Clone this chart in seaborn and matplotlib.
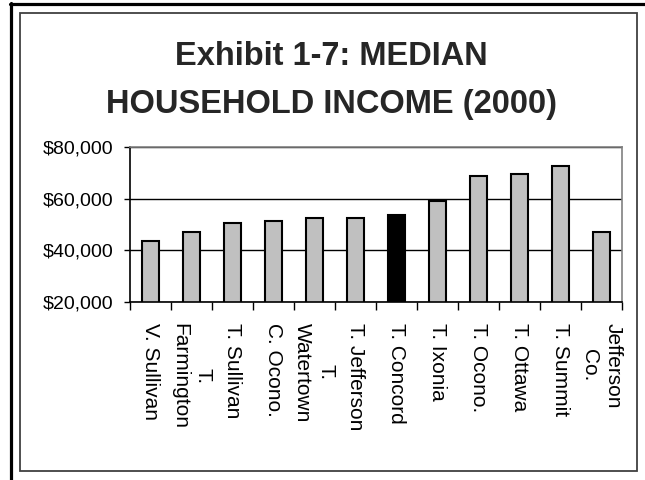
import matplotlib
matplotlib.use("Agg")
import matplotlib.pyplot as plt
import seaborn as sns
import numpy as np
from matplotlib.lines import Line2D
from matplotlib.patches import Rectangle
from matplotlib.ticker import FuncFormatter, FixedLocator

# ---- data ----
categories = ["V. Sullivan", "T. Farmington", "T. Sullivan", "C. Ocono.",
              "T. Watertown", "T. Jefferson", "T. Concord", "T. Ixonia",
              "T. Ocono.", "T. Ottawa", "T. Summit", "Jefferson Co."]
tick_labels = ["V. Sullivan", "T.\nFarmington", "T. Sullivan", "C. Ocono.",
               "T.\nWatertown", "T. Jefferson", "T. Concord", "T. Ixonia",
               "T. Ocono.", "T. Ottawa", "T. Summit", "Jefferson\nCo."]
income = [43600, 47000, 50500, 51400, 52700, 52700, 53600, 59000,
          68800, 69600, 72800, 47000]
highlight = "T. Concord"
y_ticks = [20000, 40000, 60000, 80000]

sns.set_theme(style="white")
plt.rcParams['font.family'] = ['Liberation Sans', 'DejaVu Sans']

fig = plt.figure(figsize=(6.45, 4.8), dpi=100)
ax = fig.add_axes([130/645, 1-302/480, (622-130)/645, (302-147)/480])

palette = {c: ("#000000" if c == highlight else "#C0C0C0") for c in categories}
sns.barplot(x=categories, y=income, hue=categories, palette=palette,
            legend=False, width=0.4, edgecolor="black", linewidth=1.5,
            saturation=1, ax=ax)

ax.set_ylim(20000, 80000)
ax.set_xlim(-0.5, len(categories) - 0.5)
ax.yaxis.set_major_locator(FixedLocator(y_ticks))
ax.yaxis.set_major_formatter(FuncFormatter(lambda v, p: f"${v:,.0f}"))
ax.set_axisbelow(True)
ax.yaxis.grid(True, color="black", linewidth=1.0)
ax.xaxis.grid(False)

for s in ["top", "right"]:
    ax.spines[s].set_color("#808080")
    ax.spines[s].set_linewidth(1.2)
for s in ["left", "bottom"]:
    ax.spines[s].set_color("black")
    ax.spines[s].set_linewidth(1.2)

ax.tick_params(axis="y", which="major", left=True, length=4, width=1,
               color="black", pad=8, labelsize=14, labelcolor="black")
ax.set_xticks(range(len(categories)))
ax.set_xticklabels(tick_labels, rotation=270, ha="center", va="top",
                   fontsize=15, linespacing=1.3)
for t in ax.get_xticklabels():
    t.set_multialignment("center")
ax.tick_params(axis="x", which="major", bottom=True, length=0, pad=15,
               labelcolor="black")
ax.xaxis.set_minor_locator(FixedLocator(np.arange(-0.5, len(categories), 1.0)))
ax.tick_params(axis="x", which="minor", bottom=True, length=5.5, width=1,
               color="black")
ax.set_xlabel("")
ax.set_ylabel("")

# title
fig.text(331/645, 1-65/480, "Exhibit 1-7: MEDIAN", ha="center",
         va="baseline", fontsize=23.5, fontweight="bold")
fig.text(331/645, 1-113/480, "HOUSEHOLD INCOME (2000)", ha="center",
         va="baseline", fontsize=23.5, fontweight="bold")

# frames
fig.add_artist(Rectangle((20/645, 1-471/480), (637-20)/645, (471-13)/480,
                         transform=fig.transFigure, fill=False,
                         edgecolor="#404040", linewidth=1.3))
fig.add_artist(Line2D([11/645, 11/645], [0, 1-3/480],
                      transform=fig.transFigure, color="black", linewidth=2.3))
fig.add_artist(Line2D([10/645, 1], [1-4/480, 1-4/480],
                      transform=fig.transFigure, color="black", linewidth=2.3))

fig.savefig("out.png", dpi=100, facecolor="white")
